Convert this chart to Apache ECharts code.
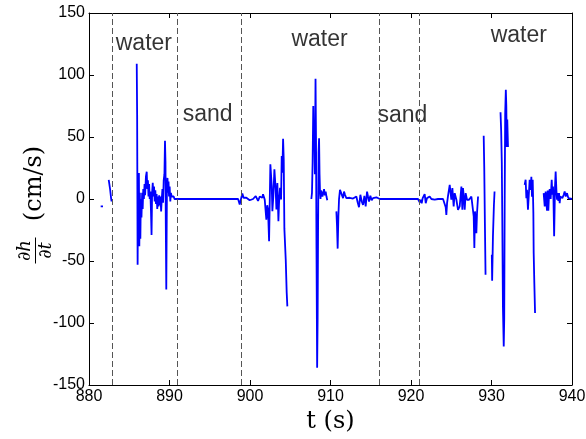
<!DOCTYPE html>
<html>
<head>
<meta charset="utf-8">
<script src="https://cdn.jsdelivr.net/npm/echarts@6/dist/echarts.min.js"></script>
<style>html,body{margin:0;padding:0;background:#fff;}#c{width:586px;height:439px;}</style>
</head>
<body>
<div id="c"></div>
<script>
// ---- data: [t (s), dh/dt (cm/s)] per recorded segment (gaps between segments) ----
const seg1 = [[881.45,-6],[881.74,-6]];
const seg2 = [[882.45,15.5],[882.52,14],[882.62,8],[882.72,2],[882.80,-2],[882.84,0]];
const seg3 = [[885.93,109],[885.98,68],[886.04,-53],[886.10,20],[886.15,-10],[886.20,21],[886.25,-38],[886.32,5],[886.38,-32],[886.44,0],[886.52,-15],[886.60,5],[886.67,-8],[886.74,8],[886.82,0],[886.90,12],[886.97,3],[887.07,18],[887.17,22],[887.24,8],[887.32,15],[887.39,2],[887.47,12],[887.54,0],[887.62,6],[887.70,-10],[887.77,-29],[887.84,5],[887.92,13],[888.00,2],[888.08,10],[888.16,-2],[888.24,7],[888.32,-4],[888.40,4],[888.48,-8],[888.56,2],[888.64,-6],[888.72,3],[888.80,-5],[888.88,2],[888.96,-10],[889.04,0],[889.12,8],[889.20,-3],[889.28,15],[889.37,20],[889.44,47],[889.50,30],[889.54,-20],[889.60,-73],[889.68,8],[889.75,17],[889.82,5],[889.88,14],[889.94,2],[890.02,10],[890.10,-2],[890.18,5],[890.26,2],[890.34,3],[890.42,1],[890.52,2],[890.62,0],[891.5,0],[892.5,0],[893.5,0],[894.5,0],[895.5,0],[896.5,0],[897.5,0],[898.52,0],
  [898.72,-4.4],[899.05,4.4],[899.20,1],[899.34,0],[899.55,1],[899.75,-0.5],[899.96,-1],[900.20,0.5],[900.38,0],[900.55,1],[900.71,2.4],[900.85,0.5],[901.00,-1.6],[901.21,2],[901.41,3],[901.52,1],[901.62,3.8],[901.83,-0.5],[902.03,-16.6],[902.14,-5],[902.24,-8.5],[902.37,-34],[902.53,28],[902.70,10.4],[902.78,-9.8],[902.90,2.3],[903.03,23.9],[903.19,7.7],[903.28,-8.5],[903.40,12.8],[903.53,-17.9],[903.61,-3],[903.73,9.1],[903.86,-0.4],[903.94,34.6],[904.02,21.2],[904.11,48.5],[904.19,31.9],[904.27,-23.9],[904.44,-49],[904.56,-75.7],[904.64,-86.6]];
const seg4 = [[907.62,0],[907.70,5],[907.78,30],[907.86,75],[907.92,40],[907.98,60],[908.06,20],[908.14,97],[908.20,50],[908.26,-40],[908.34,-136],[908.40,-97],[908.46,-20],[908.52,38],[908.58,49],[908.64,20],[908.70,5],[908.76,0],[908.82,7],[908.88,4],[908.94,6],[909.00,2],[909.10,5],[909.20,8],[909.30,3],[909.40,6],[909.50,2],[909.60,-1]];
const seg5 = [[910.73,-10],[910.81,-22],[910.89,-40],[910.98,-14],[911.06,0],[911.18,7.4],[911.27,8.8],[911.39,6],[911.56,0.7],[911.68,6],[911.80,3.4],[911.97,0.7],[912.18,0],[912.38,1],[912.59,-0.6],[912.80,0.4],[913.00,-0.6],[913.21,2],[913.38,-2.8],[913.54,-6.6],[913.71,3.4],[913.88,-2],[914.04,-4.7],[914.21,2.6],[914.37,-6],[914.54,6],[914.66,2],[914.79,-2],[914.95,2.6],[915.12,-1],[915.28,0.7],[915.49,-0.6],[915.70,1.4],[915.90,1],[916.11,0],[917,0],[918,0],[919,0],[920,0],[920.87,0],
  [921.08,-2.8],[921.20,-0.6],[921.33,-3.4],[921.45,0.7],[921.70,4],[921.83,-3.4],[921.99,0.7],[922.16,-0.6],[922.32,2],[922.53,0],[922.74,1.4],[922.94,-0.6],[923.15,1],[923.36,0],[923.56,0.4],[923.98,0],[924.18,-0.6],[924.31,-6.6],[924.39,-12.8],[924.48,-3.4],[924.60,2.6],[924.81,11.4],[924.89,10],[925.01,-0.6],[925.14,8.9],[925.30,-6],[925.43,4.7],[925.64,-0.6],[925.84,-8.7],[926.05,-6],[926.26,10.1],[926.38,-8.7],[926.46,8.9],[926.59,-0.6],[926.67,-8.7],[926.79,4.7],[926.96,-0.6],[927.21,-0.6],[927.50,2],[927.71,2],[927.79,-14],[927.87,-39.6],[927.95,-10],[928.04,-20],[928.12,-27.6],[928.20,-11.5],[928.33,2]];
const seg6 = [[929.03,51],[929.10,25],[929.18,-20],[929.26,-61]];
const seg7 = [[930.04,-45],[930.08,-66],[930.18,-30],[930.30,-5],[930.38,6]];
const seg8 = [[931.12,70],[931.20,55],[931.28,29],[931.34,-17],[931.42,-87],[931.52,-119],[931.58,-97],[931.64,2],[931.70,69],[931.78,88],[931.84,75],[931.90,42],[931.96,64],[932.05,42]];
const seg9 = [[934.12,11.4],[934.24,15.5],[934.33,0.7],[934.41,7.4],[934.53,-8.7],[934.66,-10],[934.74,15.5],[934.87,7.4],[934.95,18],[935.03,1.9],[935.12,15.5],[935.20,-11.4],[935.24,-43.5],[935.32,-67.7],[935.41,-92]];
const seg10 = [[936.48,4.7],[936.61,-6],[936.73,6],[936.81,-3],[936.90,-9.4],[936.98,6.8],[937.06,-9.4],[937.15,4.2],[937.23,8],[937.35,0],[937.48,15.5],[937.56,3.4],[937.64,10],[937.70,-0.6],[937.78,-30],[937.89,10],[937.97,22.2],[938.06,7.4],[938.14,-0.6],[938.22,4.7],[938.30,-1.6],[938.39,4.7],[938.47,-3.4],[938.55,2],[938.68,3.4],[938.80,0.7],[938.97,3.4],[939.09,6],[939.22,2],[939.38,4.7],[939.55,0.7],[939.71,1.4],[940.0,0]];

// phase boundaries (dashed lines) and region labels
const boundaries = [882.9, 891.0, 898.95, 916.1, 921.0];
const regionLabels = [[883.32,125.5,'water'],[891.64,67.7,'sand'],[905.14,128.7,'water'],[915.83,67.2,'sand'],[929.9,131.5,'water']];

const xMin = 880, xMax = 940, xStep = 10;
const yMin = -150, yMax = 150, yStep = 50;

const segments = [seg1, seg2, seg3, seg4, seg5, seg6, seg7, seg8, seg9, seg10];
const lineData = [];
segments.forEach(s => { s.forEach(p => lineData.push(p)); lineData.push([s[s.length-1][0] + 0.01, null]); });

const tickFont = {fontFamily: 'Liberation Sans', fontSize: 16, color: '#000'};
const axLine = {show: true, onZero: false, lineStyle: {color: '#000', width: 1}};
const axTick = {show: true, inside: true, length: 5, lineStyle: {color: '#000', width: 1}};

const chart = echarts.init(document.getElementById('c'), null, {renderer: 'canvas'});
chart.setOption({
  animation: false,
  backgroundColor: '#fff',
  grid: {left: 89, right: 14, top: 13, bottom: 54, outerBoundsMode: 'none', containLabel: false},
  xAxis: [
    {type: 'value', min: xMin, max: xMax, interval: xStep, position: 'bottom',
     axisLine: axLine, axisTick: axTick, splitLine: {show: false},
     axisLabel: Object.assign({margin: 4}, tickFont),
     name: 't (s)', nameLocation: 'middle', nameGap: 20,
     nameTextStyle: {fontFamily: 'DejaVu Serif', fontSize: 24, color: '#000', verticalAlign: 'top'}},
    {type: 'value', min: xMin, max: xMax, interval: xStep, position: 'top',
     axisLine: axLine, axisTick: axTick, splitLine: {show: false}, axisLabel: {show: false}}
  ],
  yAxis: [
    {type: 'value', min: yMin, max: yMax, interval: yStep, position: 'left',
     axisLine: axLine, axisTick: axTick, splitLine: {show: false},
     axisLabel: Object.assign({margin: 4}, tickFont)},
    {type: 'value', min: yMin, max: yMax, interval: yStep, position: 'right',
     axisLine: axLine, axisTick: axTick, splitLine: {show: false}, axisLabel: {show: false}}
  ],
  series: [
    {type: 'line', data: lineData, xAxisIndex: 0, yAxisIndex: 0, showSymbol: false, connectNulls: false,
     lineStyle: {color: '#0000ff', width: 1.8}, itemStyle: {color: '#0000ff'},
     markLine: {silent: true, symbol: ['none', 'none'], label: {show: false},
       lineStyle: {color: '#555', width: 1, type: [6, 3]},
       data: boundaries.map(b => ({xAxis: b}))}},
    {type: 'scatter', data: regionLabels, xAxisIndex: 0, yAxisIndex: 0, symbolSize: 0, silent: true,
     label: {show: true, position: 'right', distance: 0, formatter: p => p.data[2],
       fontFamily: 'Liberation Sans', fontSize: 23, color: '#000'}}
  ],
  graphic: [
    {type: 'group', x: 35, y: 202.5, rotation: Math.PI / 2, silent: true, children: [
      {type: 'text', x: -48, y: -1, style: {text: '∂h', fontFamily: 'DejaVu Serif', fontStyle: 'italic', fontSize: 18, fill: '#000', align: 'center', verticalAlign: 'bottom'}},
      {type: 'line', shape: {x1: -61, y1: 0.5, x2: -35, y2: 0.5}, style: {stroke: '#000', lineWidth: 1}},
      {type: 'text', x: -48, y: 2, style: {text: '∂t', fontFamily: 'DejaVu Serif', fontStyle: 'italic', fontSize: 18, fill: '#000', align: 'center', verticalAlign: 'top'}},
      {type: 'text', x: 19, y: 0, style: {text: '(cm/s)', fontFamily: 'DejaVu Serif', fontSize: 24, fill: '#000', align: 'center', verticalAlign: 'middle'}}
    ]}
  ]
});
</script>
</body>
</html>
